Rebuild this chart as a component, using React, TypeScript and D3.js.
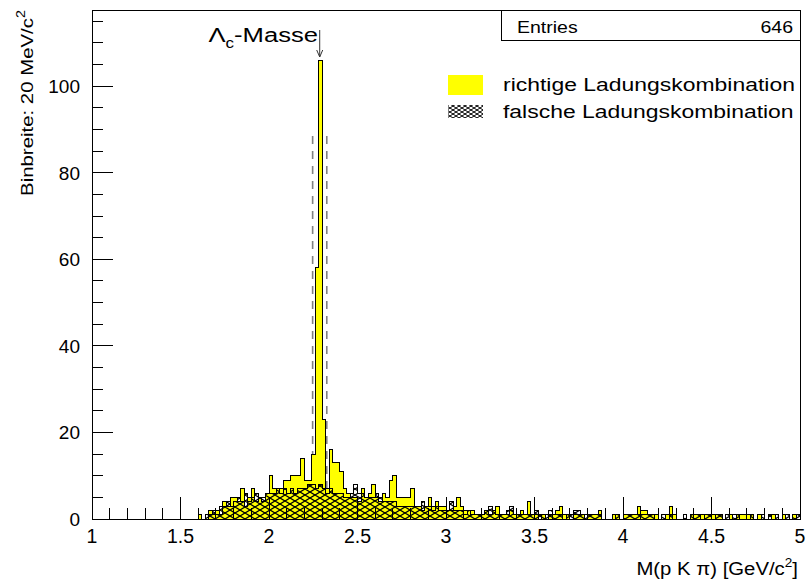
import React from 'react';
import * as d3 from 'd3';

// histogram binning (GeV/c^2)
const binStart = 1.6;
const binWidth = 0.02;

// richtige Ladungskombination, bins from 1.60 to 4.98
const richtige = [
  1, 0, 0, 2, 1, 2, 1, 4, 3, 5,
  5, 4, 7, 3, 5, 7, 4, 5, 4, 6,
  10, 7, 7, 7, 9, 9, 10, 10, 10, 14,
  9, 9, 15, 58, 106, 23, 7, 16, 13, 13,
  11, 7, 6, 5, 5, 4, 7, 5, 6, 8,
  5, 4, 6, 5, 9, 10, 5, 5, 5, 5,
  7, 3, 3, 2, 3, 5, 3, 4, 3, 3,
  2, 2, 3, 5, 3, 2, 2, 2, 1, 1,
  1, 2, 1, 2, 3, 1, 1, 1, 2, 1,
  1, 2, 1, 4, 1, 1, 0, 1, 0, 1,
  1, 2, 3, 1, 1, 0, 1, 1, 1, 0,
  1, 1, 1, 2, 0, 0, 0, 1, 1, 0,
  1, 1, 1, 1, 3, 2, 2, 1, 1, 1,
  0, 0, 1, 3, 1, 0, 0, 0, 0, 1,
  1, 1, 1, 1, 1, 1, 1, 1, 0, 0,
  1, 0, 1, 1, 1, 1, 1, 0, 1, 0,
  0, 0, 1, 0, 0, 1, 0, 0, 1, 0,
];

// falsche Ladungskombination, same bins
const falsche = [
  0, 0, 1, 1, 2, 1, 3, 3, 4, 3,
  4, 5, 4, 6, 4, 5, 6, 5, 5, 6,
  6, 6, 7, 6, 7, 6, 7, 6, 7, 7,
  7, 8, 8, 7, 8, 7, 6, 7, 6, 6,
  6, 5, 5, 6, 8, 6, 6, 5, 5, 5,
  6, 5, 4, 4, 4, 4, 3, 3, 3, 3,
  3, 3, 3, 4, 3, 3, 2, 3, 2, 2,
  2, 4, 2, 2, 2, 1, 2, 1, 1, 1,
  1, 2, 3, 2, 1, 1, 1, 2, 3, 1,
  1, 1, 1, 1, 1, 2, 1, 1, 1, 2,
  1, 1, 1, 0, 1, 1, 2, 2, 1, 1,
  1, 1, 1, 1, 0, 0, 0, 0, 1, 0,
  1, 1, 1, 1, 1, 1, 1, 1, 1, 0,
  0, 1, 0, 1, 0, 0, 0, 1, 0, 1,
  1, 1, 0, 1, 1, 0, 1, 1, 0, 1,
  0, 1, 1, 0, 0, 0, 1, 0, 0, 1,
  0, 1, 0, 1, 0, 0, 1, 0, 1, 1,
];

const xTicks = [1, 1.5, 2, 2.5, 3, 3.5, 4, 4.5, 5];
const xTickLabels = ['1', '1.5', '2', '2.5', '3', '3.5', '4', '4.5', '5'];
const yTicks = [0, 20, 40, 60, 80, 100];
const lambdaMass = 2.2865;
const massWindow = [2.2465, 2.3265];
const windowTop = 90;
const entries = 646;

const font = "'Liberation Sans', Arial, Helvetica, sans-serif";

function SText({ x, y, size, sx = 1, anchor = 'start', rotate = 0, children }: any) {
  return (
    <g transform={`translate(${x},${y}) rotate(${rotate}) scale(${sx},1)`}>
      <text fontSize={size} textAnchor={anchor} fontFamily={font} fill="#000">
        {children}
      </text>
    </g>
  );
}

function Histo({ values, x, y, fill }: any) {
  const pts: [number, number][] = values.map((v: number, i: number) => [binStart + i * binWidth, v]);
  pts.push([binStart + values.length * binWidth, values[values.length - 1]]);
  const area = d3.area<[number, number]>()
    .x(d => x(d[0]))
    .y0(y(0))
    .y1(d => y(d[1]))
    .curve(d3.curveStepAfter);
  return <path d={area(pts) || ''} fill={fill} stroke="#000" strokeWidth={1} shapeRendering="crispEdges" />;
}

export default function App() {
  const left = 92, right = 800, top = 10.5, bottom = 519;
  const x = d3.scaleLinear().domain([1, 5]).range([left, right]);
  const y = d3.scaleLinear().domain([0, 117.5]).range([bottom, top]);

  const xMinor = d3.range(1, 5.0001, 0.1).filter(v => Math.abs(v * 2 - Math.round(v * 2)) > 1e-6);
  const yMinor = d3.range(0, 116, 5).filter(v => v % 20 !== 0);

  return (
    <svg width={808} height={581} style={{ position: 'absolute', left: 0, top: 0, background: '#fff' }}>
      <defs>
        <pattern id="hatch" patternUnits="userSpaceOnUse" width={10} height={6}>
          <path d="M0,0 L10,6 M0,6 L10,0" stroke="#000" strokeWidth={1.2} fill="none" />
        </pattern>
        <pattern id="hatchSmall" patternUnits="userSpaceOnUse" width={6} height={4}>
          <path d="M0,0 L6,4 M0,4 L6,0" stroke="#000" strokeWidth={1} fill="none" />
        </pattern>
      </defs>
      <rect x={0} y={0} width={808} height={581} fill="#fff" />

      {/* mass window */}
      {massWindow.map(m => (
        <line key={m} x1={x(m)} x2={x(m)} y1={y(0)} y2={y(windowTop)}
          stroke="#808080" strokeWidth={1.6} strokeDasharray="8,7" />
      ))}

      <Histo values={richtige} x={x} y={y} fill="#ffff00" />
      <Histo values={falsche} x={x} y={y} fill="url(#hatch)" />

      {/* frame */}
      <rect x={left} y={top} width={right - left} height={bottom - top} fill="none" stroke="#000" shapeRendering="crispEdges" />

      {/* axis ticks */}
      <g stroke="#000" shapeRendering="crispEdges">
        {xTicks.map(t => <line key={'xM' + t} x1={x(t)} x2={x(t)} y1={bottom} y2={bottom - 22} />)}
        {xMinor.map(t => <line key={'xm' + t} x1={x(t)} x2={x(t)} y1={bottom} y2={bottom - 11} />)}
        {yTicks.map(t => <line key={'yM' + t} x1={left} x2={left + 21} y1={y(t)} y2={y(t)} />)}
        {yMinor.map(t => <line key={'ym' + t} x1={left} x2={left + 11} y1={y(t)} y2={y(t)} />)}
      </g>

      {xTicks.map((t, i) => (
        <SText key={'xl' + t} x={x(t)} y={543} size={19.5} anchor="middle">{xTickLabels[i]}</SText>
      ))}
      {yTicks.map(t => (
        <SText key={'yl' + t} x={80} y={y(t) + 7} size={19} anchor="end">{String(t)}</SText>
      ))}

      {/* axis titles */}
      <SText x={798} y={575} size={18} sx={1.13} anchor="end">
        M(p K π) [GeV/c<tspan fontSize={12} dy={-8}>2</tspan><tspan dy={8}>]</tspan>
      </SText>
      <SText x={33} y={10} size={17} sx={1.2} anchor="end" rotate={-90}>
        Binbreite: 20 MeV/c<tspan fontSize={12} dy={-8}>2</tspan>
      </SText>

      {/* Lambda_c label and arrow */}
      <SText x={318} y={42} size={21} sx={1.22} anchor="end">
        Λ<tspan fontSize={14} dy={6}>c</tspan><tspan dy={-6}>-Masse</tspan>
      </SText>
      <g stroke="#333" strokeWidth={1} fill="none">
        <line x1={x(lambdaMass)} x2={x(lambdaMass)} y1={30} y2={57} />
        <polyline points={`${x(lambdaMass) - 3},50 ${x(lambdaMass)},57 ${x(lambdaMass) + 3},50`} />
      </g>

      {/* stats box */}
      <rect x={501} y={top} width={right - 501} height={30} fill="#fff" stroke="#000" shapeRendering="crispEdges" />
      <SText x={517} y={33} size={16} sx={1.22}>Entries</SText>
      <SText x={793} y={33} size={16} sx={1.22} anchor="end">{String(entries)}</SText>

      {/* legend */}
      <rect x={448} y={75} width={35} height={20} fill="#ffff00" />
      <rect x={448} y={105} width={35} height={13} fill="url(#hatchSmall)" />
      <SText x={503} y={91} size={18.5} sx={1.24}>richtige Ladungskombination</SText>
      <SText x={503} y={118} size={18.5} sx={1.24}>falsche Ladungskombination</SText>
    </svg>
  );
}
